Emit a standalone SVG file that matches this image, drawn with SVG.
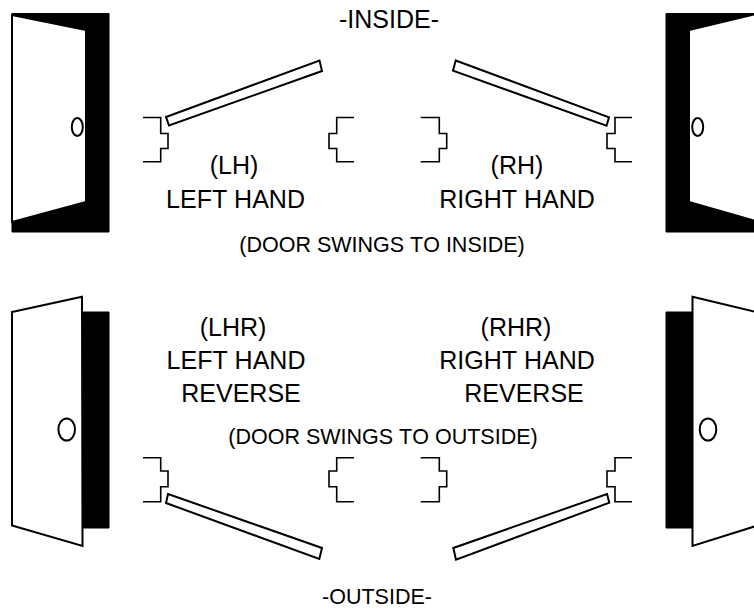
<svg xmlns="http://www.w3.org/2000/svg" width="754" height="610" viewBox="0 0 754 610">
<style>
.bg{fill:#fff}
.jamb{fill:#000;stroke:#000;stroke-width:1;stroke-linejoin:round}
.leaf{fill:#fff;stroke:#000;stroke-width:2;stroke-linejoin:miter}
.panel{fill:#fff;stroke:#000;stroke-width:2}
.knob{fill:none;stroke:#000;stroke-width:2}
.frame{fill:none;stroke:#000;stroke-width:1.6}
text{font-family:"Liberation Sans",Arial,sans-serif;fill:#000;text-anchor:middle;font-kerning:none}
.l{font-size:25px}
.m{font-size:21.5px}
</style>
<rect class="bg" width="754" height="610"/>
<g id="door-lh">
<rect class="jamb" x="12" y="13.5" width="97" height="218.5"/>
<polygon class="leaf" points="12,15 86,30 86,202 12,222"/>
<ellipse class="knob" cx="77.300" cy="127" rx="5.500" ry="9"/>
</g>
<g id="door-rh">
<rect class="jamb" x="666" y="13.5" width="90" height="218.5"/>
<polygon class="leaf" points="689,30 756,14 756,221 689,202"/>
<ellipse class="knob" cx="697.700" cy="127" rx="5.500" ry="9"/>
</g>
<g id="door-lhr">
<rect class="jamb" x="82" y="312" width="27" height="216"/>
<polygon class="leaf" points="12,312 82,296.7 82.5,546 12,525.5"/>
<ellipse class="knob" cx="66.700" cy="429.500" rx="8.300" ry="11"/>
</g>
<g id="door-rhr">
<rect class="jamb" x="666" y="312" width="27" height="216"/>
<polygon class="leaf" points="692.5,296.7 756,312 756,526 692.5,546"/>
<ellipse class="knob" cx="708" cy="429.500" rx="8.300" ry="11"/>
</g>
<g id="swing-lh">
<polygon class="panel" points="166,117 319.5,60.5 322,71 169,125.5"/>
<polyline class="frame" points="143,117.5 160.7,117.5 160.7,133.5 168,133.5 168,148.5 160.7,148.5 160.7,161.7 143,161.7"/>
<polyline class="frame" points="354,117.5 336.7,117.5 336.7,133.500 329,133.500 329,148.500 336.7,148.500 336.7,161.7 354,161.7"/>
</g>
<g id="swing-rh">
<polygon class="panel" points="455.7,60.5 609,117.3 606.5,125.7 453,70.7"/>
<polyline class="frame" points="420.7,117.5 439.3,117.5 439.3,133.500 446.7,133.500 446.7,148.500 439.3,148.500 439.3,161.7 420.7,161.7"/>
<polyline class="frame" points="632,117.5 615,117.5 615,133.500 607,133.500 607,148.500 615,148.500 615,161.7 632,161.7"/>
</g>
<g id="swing-lhr">
<polygon class="panel" points="168,494 322,548 319.3,559 166,503"/>
<polyline class="frame" points="143,457.7 160.7,457.7 160.7,471 168,471 168,486.7 160.7,486.7 160.7,501.7 143,501.7"/>
<polyline class="frame" points="354,457.7 336.7,457.7 336.7,471 329,471 329,486.7 336.7,486.7 336.7,501.7 354,501.7"/>
</g>
<g id="swing-rhr">
<polygon class="panel" points="607,494 609.3,502.7 456,559.7 453.3,548"/>
<polyline class="frame" points="420.7,457.7 439.3,457.7 439.3,471 446.7,471 446.7,486.7 439.3,486.7 439.3,501.7 420.7,501.7"/>
<polyline class="frame" points="632,457.7 615,457.7 615,471 607,471 607,486.7 615,486.7 615,501.7 632,501.7"/>
</g>
<g id="labels">
<text class="l" x="389" y="27.500">-INSIDE-</text>
<text class="l" x="234" y="174">(LH)</text>
<text class="l" x="235.500" y="208">LEFT HAND</text>
<text class="l" x="517" y="174">(RH)</text>
<text class="l" x="517" y="208">RIGHT HAND</text>
<text class="m" x="382" y="252">(DOOR SWINGS TO INSIDE)</text>
<text class="l" x="233" y="336">(LHR)</text>
<text class="l" x="236" y="369">LEFT HAND</text>
<text class="l" x="241" y="402">REVERSE</text>
<text class="l" x="516" y="336">(RHR)</text>
<text class="l" x="517" y="369">RIGHT HAND</text>
<text class="l" x="524" y="402">REVERSE</text>
<text class="m" x="383" y="444">(DOOR SWINGS TO OUTSIDE)</text>
<text class="m" x="377" y="604">-OUTSIDE-</text>
</g>
</svg>
